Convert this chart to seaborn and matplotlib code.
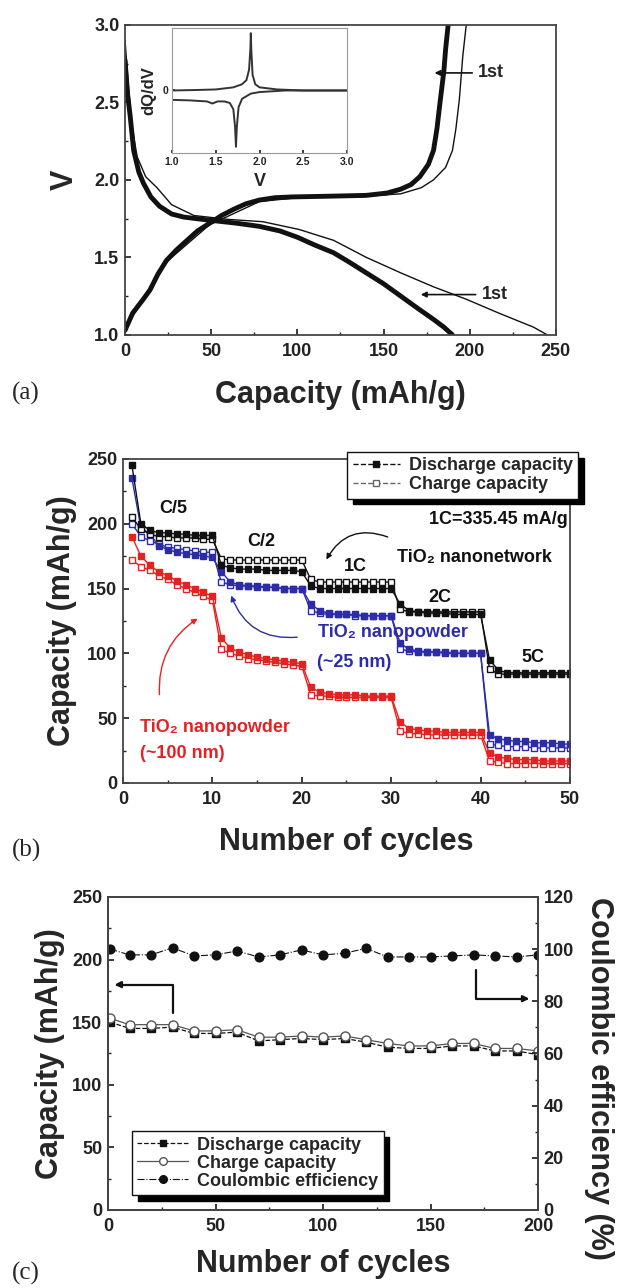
import numpy as np
import pandas as pd
import matplotlib
matplotlib.use('Agg')
import matplotlib.pyplot as plt
import seaborn as sns
from matplotlib.lines import Line2D
from matplotlib.ticker import MultipleLocator, AutoMinorLocator

# ---------------- (a) voltage profiles ----------------
charge_cap = [0, 4.4, 10.6, 14.5, 19, 24, 30, 36, 42, 49, 56, 63, 70, 78, 87, 97, 120, 140, 152,
              160, 166, 171, 176, 179, 181, 183, 185, 186, 187.5]
charge_v = [1.03, 1.14, 1.23, 1.29, 1.39, 1.48, 1.55, 1.61, 1.67, 1.72, 1.77, 1.81, 1.845, 1.87, 1.885,
            1.89, 1.895, 1.90, 1.915, 1.94, 1.97, 2.02, 2.10, 2.19, 2.33, 2.52, 2.70, 2.84, 3.0]
first_charge_cap = [0, 10, 24, 49, 78, 100, 140, 160, 172, 179, 186, 190, 192, 194, 196, 198]
first_charge_v = [1.03, 1.23, 1.47, 1.71, 1.86, 1.885, 1.895, 1.91, 1.95, 2.0, 2.08, 2.19, 2.33, 2.52, 2.80, 3.0]
discharge_cap = [0, 1.5, 3, 5, 8, 10.6, 15, 20, 27, 34, 45, 53, 65, 78, 90, 100, 110, 121, 130,
                 140, 150, 160, 170, 179, 185, 190]
discharge_v = [2.77, 2.55, 2.41, 2.19, 2.05, 1.98, 1.89, 1.83, 1.78, 1.76, 1.745, 1.735, 1.72, 1.70,
               1.67, 1.63, 1.58, 1.53, 1.47, 1.40, 1.33, 1.25, 1.17, 1.10, 1.05, 1.0]
first_discharge_cap = [0, 2, 4, 7, 12, 18.5, 27, 40, 60, 80, 101, 121, 140, 160, 179, 198, 217, 237, 245]
first_discharge_v = [2.9, 2.6, 2.35, 2.15, 2.02, 1.95, 1.84, 1.77, 1.745, 1.73, 1.68, 1.61, 1.50, 1.40,
                     1.31, 1.23, 1.14, 1.05, 1.0]

# inset dQ/dV
dq_charge_v = [1.0, 1.3, 1.5, 1.7, 1.8, 1.85, 1.88, 1.895, 1.9, 1.905, 1.92, 1.95, 2.0, 2.2, 2.5, 3.0]
dq_charge = [0.0, 0.05, 0.1, 0.3, 0.6, 1.0, 2.0, 4.0, 5.5, 4.0, 1.5, 0.6, 0.3, 0.1, 0.0, 0.0]
dq_dis_v = [1.0, 1.2, 1.4, 1.46, 1.52, 1.6, 1.66, 1.7, 1.72, 1.73, 1.74, 1.76, 1.8, 1.9, 2.0, 2.3, 3.0]
dq_dis = [-0.9, -0.95, -1.05, -1.25, -1.05, -1.05, -1.2, -1.8, -3.5, -5.4, -3.5, -1.6, -0.8, -0.3, -0.15, 0.0, 0.0]

# ---------------- (b) rate capability ----------------
cycles_b = list(range(1, 51))
net_dis = [245, 200, 195, 193, 193, 192, 192, 191, 191, 191,
           168, 166, 165, 165, 165, 164, 164, 164, 164, 163,
           152, 150, 150, 150, 150, 150, 150, 150, 150, 150,
           138, 133, 132, 131, 131, 131, 130, 130, 130, 130,
           95, 87, 85, 85, 85, 85, 85, 85, 85, 85]
net_chg = [205, 196, 192, 190, 190, 189, 189, 189, 188, 188,
           173, 172, 172, 172, 172, 172, 172, 172, 172, 172,
           157, 155, 155, 155, 155, 155, 155, 155, 155, 155,
           134, 132, 132, 132, 132, 132, 132, 132, 132, 132,
           88, 84, 84, 84, 84, 84, 84, 84, 84, 84]
p25_dis = [235, 197, 192, 183, 180, 178, 177, 176, 175, 174,
           163, 155, 153, 152, 152, 151, 151, 150, 150, 150,
           138, 133, 131, 130, 130, 130, 129, 129, 129, 129,
           108, 103, 102, 101, 101, 101, 100, 100, 100, 100,
           37, 34, 33, 32, 32, 31, 31, 31, 30, 30]
p25_chg = [200, 190, 187, 184, 182, 181, 180, 179, 178, 178,
           155, 153, 152, 152, 151, 151, 151, 150, 150, 150,
           133, 131, 130, 130, 130, 129, 129, 129, 129, 129,
           103, 102, 101, 101, 101, 100, 100, 100, 100, 100,
           30, 29, 28, 28, 28, 27, 27, 27, 27, 27]
p100_dis = [190, 175, 168, 163, 160, 156, 153, 150, 147, 144,
            112, 104, 101, 99, 97, 96, 95, 94, 93, 92,
            74, 70, 69, 68, 68, 68, 67, 67, 67, 67,
            47, 42, 41, 40, 40, 39, 39, 39, 39, 39,
            23, 20, 19, 18, 18, 18, 17, 17, 17, 17]
p100_chg = [172, 167, 164, 160, 157, 153, 150, 147, 144, 141,
            103, 100, 98, 96, 95, 94, 93, 92, 91, 90,
            68, 67, 67, 66, 66, 66, 66, 66, 66, 66,
            40, 38, 38, 37, 37, 37, 37, 37, 37, 37,
            17, 16, 15, 15, 15, 15, 15, 15, 15, 15]

# ---------------- (c) long cycling ----------------
cycles_c = [1, 10, 20, 30, 40, 50, 60, 70, 80, 90, 100, 110, 120, 130, 140, 150, 160, 170, 180, 190, 200]
cyc_dis = [150, 145, 145, 146, 141, 141, 142, 135, 136, 137, 136, 137, 134, 130, 129, 129, 131, 131, 127, 127, 124]
cyc_chg = [153, 148, 148, 148, 143, 143, 144, 138, 138, 139, 138, 139, 136, 133, 131, 131, 133, 133, 129, 129, 127]
coul_eff = [100.0, 97.8, 97.8, 100.5, 97.4, 97.8, 99.3, 97.0, 97.8, 99.7, 97.8, 98.4, 100.3,
            97.0, 97.0, 97.0, 97.4, 97.8, 97.4, 97.0, 97.8]

BLACK = '#111111'
BLUE = '#2c2ca8'
RED = '#e52222'
LABEL_FS = 22
TICK_FS = 13
NOTE_FS = 13

sns.set_theme(style="ticks")
plt.rcParams.update({
    'font.family': ['Liberation Sans', 'DejaVu Sans'],
    'font.weight': 'bold',
    'axes.labelweight': 'bold',
    'axes.linewidth': 1.3,
    'axes.edgecolor': '#444444',
    'xtick.direction': 'in',
    'ytick.direction': 'in',
    'xtick.major.size': 4, 'ytick.major.size': 4,
    'xtick.minor.size': 2, 'ytick.minor.size': 2,
    'xtick.minor.visible': True, 'ytick.minor.visible': True,
    'xtick.labelsize': TICK_FS, 'ytick.labelsize': TICK_FS,
    'xtick.major.pad': 6, 'ytick.major.pad': 4,
    'xtick.color': '#222222', 'ytick.color': '#222222',
})


def draw(ax, x, y, color, marker=None, filled=True, ms=4.5, lw=1.0, ls='-', mec=None):
    kw = dict(color=color, linewidth=lw, linestyle=ls, estimator=None, sort=False, legend=False, ax=ax)
    if marker:
        kw.update(marker=marker, markersize=ms,
                  markerfacecolor=color if filled else 'white',
                  markeredgecolor=mec or color, markeredgewidth=1.0)
    sns.lineplot(x=x, y=y, **kw)


fig = plt.figure(figsize=(6.19, 12.88), dpi=100)

# ======== (a) ========
axa = fig.add_axes([0.202, 0.740, 0.696, 0.2407])
draw(axa, first_charge_cap, first_charge_v, BLACK, lw=1.0)
draw(axa, first_discharge_cap, first_discharge_v, BLACK, lw=1.0)
draw(axa, charge_cap, charge_v, BLACK, lw=3.5)
draw(axa, discharge_cap, discharge_v, BLACK, lw=3.5)
axa.set_xlim(0, 250)
axa.set_ylim(1.0, 3.0)
axa.xaxis.set_major_locator(MultipleLocator(50))
axa.xaxis.set_minor_locator(AutoMinorLocator(2))
axa.yaxis.set_major_locator(MultipleLocator(0.5))
axa.yaxis.set_minor_locator(AutoMinorLocator(2))
axa.set_xlabel('Capacity (mAh/g)', fontsize=LABEL_FS)
axa.set_ylabel('V', fontsize=LABEL_FS)
axa.xaxis.set_label_coords(0.5, -0.145)
axa.yaxis.set_label_coords(-0.104, 0.5)
axa.annotate('1st', xy=(178, 2.69), xytext=(205, 2.69), fontsize=NOTE_FS, va='center',
             arrowprops=dict(arrowstyle='-|>', color=BLACK, lw=1.2, mutation_scale=8))
axa.annotate('1st', xy=(170, 1.26), xytext=(207, 1.26), fontsize=NOTE_FS, va='center',
             arrowprops=dict(arrowstyle='-|>', color=BLACK, lw=1.2, mutation_scale=8))

ins = fig.add_axes([0.278, 0.8812, 0.2827, 0.0971])
draw(ins, dq_charge_v, dq_charge, '#333333', lw=1.4)
draw(ins, dq_dis_v, dq_dis, '#333333', lw=1.4)
ins.set_xlim(1.0, 3.0)
ins.set_ylim(-6, 6)
ins.set_xticks([1.0, 1.5, 2.0, 2.5, 3.0])
ins.set_xticklabels(['1.0', '1.5', '2.0', '2.5', '3.0'])
ins.set_yticks([0])
ins.set_yticklabels(['0'])
ins.tick_params(labelsize=7.5, length=2, pad=3)
ins.minorticks_off()
for s in ins.spines.values():
    s.set_color('#999999')
    s.set_linewidth(0.8)
ins.set_xlabel('V', fontsize=13, labelpad=4)
ins.set_ylabel('dQ/dV', fontsize=12, labelpad=4)

# ======== (b) ========
axb = fig.add_axes([0.1987, 0.3921, 0.7221, 0.2516])
series_b = [
    (p100_chg, RED, False), (p100_dis, RED, True),
    (p25_chg, BLUE, False), (p25_dis, BLUE, True),
    (net_chg, BLACK, False), (net_dis, BLACK, True),
]
for vals, col, filled in series_b:
    draw(axb, cycles_b, vals, col, marker='s', filled=filled, ms=5.0, lw=1.0)
axb.set_xlim(0, 50)
axb.set_ylim(0, 250)
axb.xaxis.set_major_locator(MultipleLocator(10))
axb.xaxis.set_minor_locator(AutoMinorLocator(2))
axb.yaxis.set_major_locator(MultipleLocator(50))
axb.yaxis.set_minor_locator(AutoMinorLocator(2))
axb.set_xlabel('Number of cycles', fontsize=LABEL_FS)
axb.set_ylabel('Capacity (mAh/g)', fontsize=LABEL_FS)
axb.xaxis.set_label_coords(0.5, -0.135)
axb.yaxis.set_label_coords(-0.103, 0.5)

for txt, x, y in [('C/5', 5.6, 212), ('C/2', 15.5, 186), ('1C', 26, 167), ('2C', 35.5, 143), ('5C', 45.9, 96.5)]:
    axb.text(x, y, txt, fontsize=NOTE_FS, ha='center', va='center', color=BLACK)
axb.text(49.7, 203, '1C=335.45 mA/g', fontsize=NOTE_FS, ha='right', va='center', color=BLACK)
axb.text(30.6, 174, 'TiO₂ nanonetwork', fontsize=NOTE_FS, ha='left', va='center', color=BLACK)
axb.text(21.8, 116, 'TiO₂ nanopowder', fontsize=NOTE_FS, ha='left', va='center', color=BLUE)
axb.text(21.7, 92.6, '(~25 nm)', fontsize=NOTE_FS, ha='left', va='center', color=BLUE)
axb.text(1.9, 43, 'TiO₂ nanopowder', fontsize=NOTE_FS, ha='left', va='center', color=RED)
axb.text(1.9, 23, '(~100 nm)', fontsize=NOTE_FS, ha='left', va='center', color=RED)
axb.annotate('', xy=(22.6, 170.5), xytext=(29.9, 189),
             arrowprops=dict(arrowstyle='-|>', color=BLACK, lw=1.0, mutation_scale=8,
                             connectionstyle='arc3,rad=0.45'))
axb.annotate('', xy=(12.0, 146.6), xytext=(19.8, 112.7),
             arrowprops=dict(arrowstyle='-|>', color=BLUE, lw=1.0, mutation_scale=8,
                             connectionstyle='arc3,rad=-0.4'))
axb.annotate('', xy=(8.6, 128), xytext=(4.1, 66),
             arrowprops=dict(arrowstyle='-|>', color=RED, lw=1.0, mutation_scale=8,
                             connectionstyle='arc3,rad=-0.3'))

h_b = [Line2D([], [], color=BLACK, lw=1.0, ls='--', marker='s', ms=5, mfc=BLACK, mec=BLACK),
       Line2D([], [], color='#666666', lw=1.0, ls='--', marker='s', ms=5, mfc='white', mec='#666666')]
fig.legend(h_b, ['Discharge capacity', 'Charge capacity'], loc='upper right',
           bbox_to_anchor=(578 / 619, 1 - 452 / 1288), fontsize=NOTE_FS, frameon=True, fancybox=False,
           edgecolor=BLACK, framealpha=1, borderaxespad=0, handlelength=2.6, handletextpad=0.5,
           borderpad=0.3, labelspacing=0.1,
           shadow={'ox': 4, 'oy': -4, 'facecolor': 'black', 'edgecolor': 'black', 'alpha': 1})

# ======== (c) ========
axc = fig.add_axes([0.1745, 0.0606, 0.6947, 0.2430])
axr = axc.twinx()
draw(axc, cycles_c, cyc_dis, BLACK, marker='s', filled=True, ms=5.5, lw=0.9, ls='--')
draw(axc, cycles_c, cyc_chg, '#555555', marker='o', filled=False, ms=6.5, lw=0.9, ls='-', mec='#555555')
draw(axr, cycles_c, coul_eff, BLACK, marker='o', filled=True, ms=6.3, lw=0.8, ls='-.')
axc.set_xlim(0, 200)
axc.set_ylim(0, 250)
axr.set_ylim(0, 120)
axc.xaxis.set_major_locator(MultipleLocator(50))
axc.xaxis.set_minor_locator(AutoMinorLocator(2))
axc.yaxis.set_major_locator(MultipleLocator(50))
axc.yaxis.set_minor_locator(AutoMinorLocator(2))
axr.yaxis.set_major_locator(MultipleLocator(20))
axr.yaxis.set_minor_locator(AutoMinorLocator(2))
axr.tick_params(axis='y', direction='in', labelsize=TICK_FS, pad=4)
axc.set_xlabel('Number of cycles', fontsize=LABEL_FS)
axc.set_ylabel('Capacity (mAh/g)', fontsize=LABEL_FS)
axr.set_ylabel('Coulombic efficiency (%)', fontsize=LABEL_FS, rotation=270, va='bottom')
axc.xaxis.set_label_coords(0.5, -0.125)
axc.yaxis.set_label_coords(-0.10, 0.5)
axr.yaxis.set_label_coords(1.108, 0.42)

axc.annotate('', xy=(3, 180), xytext=(30, 157),
             arrowprops=dict(arrowstyle='-|>', color=BLACK, lw=1.6, mutation_scale=9,
                             connectionstyle='angle,angleA=90,angleB=0,rad=0', shrinkA=0, shrinkB=0))
axr.annotate('', xy=(196, 81), xytext=(171, 92),
             arrowprops=dict(arrowstyle='-|>', color=BLACK, lw=1.6, mutation_scale=9,
                             connectionstyle='angle,angleA=90,angleB=0,rad=0', shrinkA=0, shrinkB=0))

h_c = [Line2D([], [], color=BLACK, lw=0.9, ls='--', marker='s', ms=5, mfc=BLACK, mec=BLACK),
       Line2D([], [], color='#555555', lw=0.9, ls='-', marker='o', ms=5.5, mfc='white', mec='#555555'),
       Line2D([], [], color=BLACK, lw=0.8, ls='-.', marker='o', ms=5.5, mfc=BLACK, mec=BLACK)]
fig.legend(h_c, ['Discharge capacity', 'Charge capacity', 'Coulombic efficiency'], loc='lower left',
           bbox_to_anchor=(132 / 619, 1 - 1195 / 1288), fontsize=NOTE_FS, frameon=True, fancybox=False,
           edgecolor=BLACK, framealpha=1, borderaxespad=0, handlelength=2.8, handletextpad=0.5,
           borderpad=0.3, labelspacing=0.05,
           shadow={'ox': 4, 'oy': -4, 'facecolor': 'black', 'edgecolor': 'black', 'alpha': 1})

# panel labels
for lab, y in [('(a)', 393), ('(b)', 850), ('(c)', 1273)]:
    fig.text(12 / 619, 1 - y / 1288, lab, fontsize=18, fontweight='normal',
             family=['Liberation Serif', 'DejaVu Serif'], va='center', ha='left')

fig.savefig('out.png', dpi=100, facecolor='white')
